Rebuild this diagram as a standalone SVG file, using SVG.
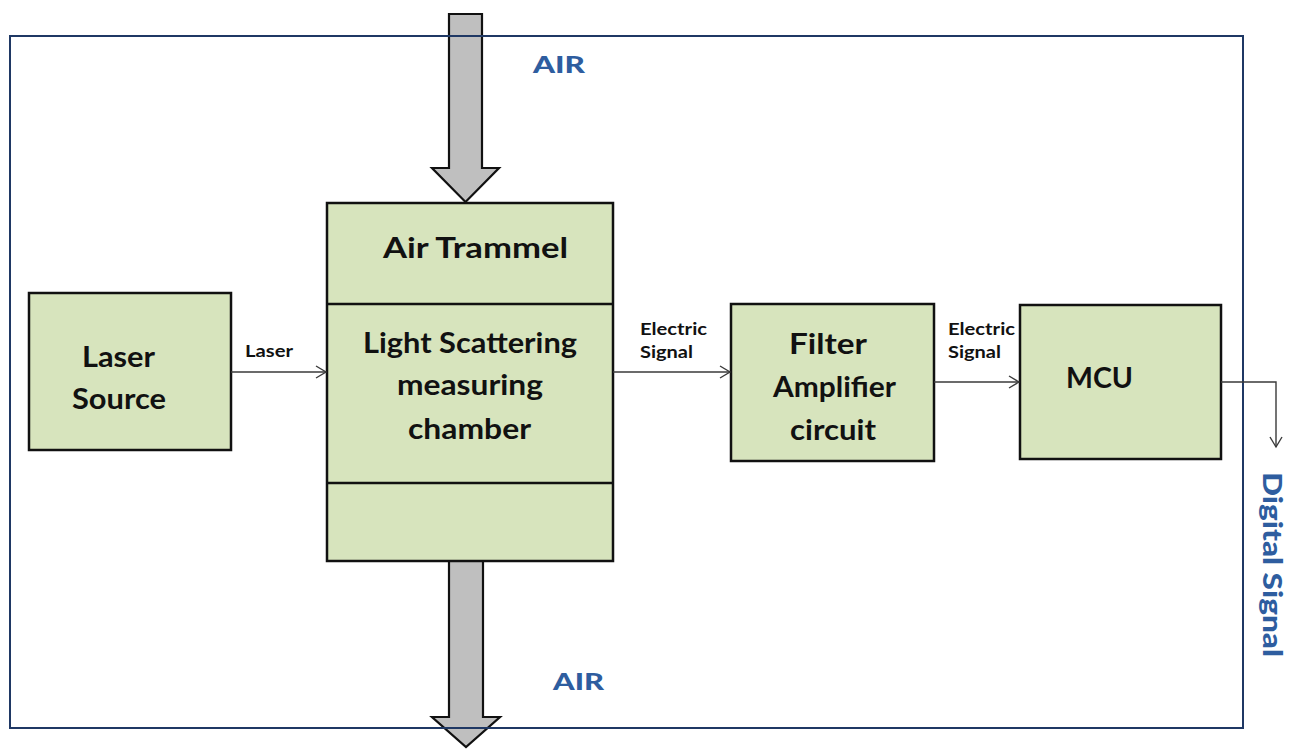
<svg xmlns="http://www.w3.org/2000/svg" width="1296" height="749" viewBox="0 0 1296 749">
<defs>
<style>
.box{fill:#D7E4BD;stroke:#111;stroke-width:2.5}
.big{fill:#111;stroke:none}
.t{font-family:Lato,"Liberation Sans",sans-serif;font-weight:bold;fill:#111}
.lbl{font-family:Lato,"Liberation Sans",sans-serif;font-weight:bold;fill:#111;font-size:17px}
.blue{font-family:Lato,"Liberation Sans",sans-serif;font-weight:900;fill:#2E5D9F}
.conn{fill:none;stroke:#3a3a3a;stroke-width:1.4}
.flow{fill:#BFBFBF;stroke:#111;stroke-width:2.2;stroke-linejoin:miter}
</style>
<marker id="arr" markerWidth="14" markerHeight="14" refX="11" refY="7" orient="auto" markerUnits="userSpaceOnUse">
<path d="M1,1 L11,7 L1,13" fill="none" stroke="#3a3a3a" stroke-width="1.4"/>
</marker>
</defs>
<rect width="1296" height="749" fill="#fff"/>

<g id="air-in">
<polygon class="flow" points="449,14 482,14 482,168 499,168 465.5,202 432,168 449,168"/>
</g>
<g id="air-out">
<polygon class="flow" points="449,561 483,561 483,717 500,717 466,747 432,717 449,717"/>
</g>

<rect id="frame" x="10" y="36" width="1233" height="692" fill="none" stroke="#1F3864" stroke-width="2"/>

<g id="air-label-top"><text class="blue" x="533" y="73" font-size="22" textLength="52" lengthAdjust="spacingAndGlyphs">AIR</text></g>
<g id="air-label-bottom"><text class="blue" x="553" y="690" font-size="22" textLength="51" lengthAdjust="spacingAndGlyphs">AIR</text></g>

<g id="laser-source">
<rect class="box" x="29" y="293" width="202" height="157"/>
<text class="t" x="82" y="367" font-size="29" textLength="73" lengthAdjust="spacingAndGlyphs">Laser</text>
<text class="t" x="72" y="409" font-size="29" textLength="94" lengthAdjust="spacingAndGlyphs">Source</text>
</g>

<g id="chamber">
<rect class="box" x="327" y="203" width="286" height="358"/>
<line x1="327" y1="304" x2="613" y2="304" stroke="#111" stroke-width="2.5"/>
<line x1="327" y1="483" x2="613" y2="483" stroke="#111" stroke-width="2.5"/>
<text class="t" x="383" y="258" font-size="29" textLength="185" lengthAdjust="spacingAndGlyphs">Air Trammel</text>
<text class="t" x="363" y="353" font-size="28" textLength="214" lengthAdjust="spacingAndGlyphs">Light Scattering</text>
<text class="t" x="397" y="395" font-size="28" textLength="146" lengthAdjust="spacingAndGlyphs">measuring</text>
<text class="t" x="408" y="439" font-size="28" textLength="123" lengthAdjust="spacingAndGlyphs">chamber</text>
</g>

<g id="filter-amplifier">
<rect class="box" x="731" y="304" width="203" height="157"/>
<text class="t" x="789" y="354" font-size="28" textLength="78" lengthAdjust="spacingAndGlyphs">Filter</text>
<text class="t" x="773" y="397" font-size="28" textLength="123" lengthAdjust="spacingAndGlyphs">Amplifier</text>
<text class="t" x="790" y="440" font-size="28" textLength="86" lengthAdjust="spacingAndGlyphs">circuit</text>
</g>

<g id="mcu">
<rect class="box" x="1020" y="305" width="201" height="154"/>
<text class="t" x="1066" y="388" font-size="28" textLength="67" lengthAdjust="spacingAndGlyphs">MCU</text>
</g>

<g id="connectors">
<line class="conn" x1="231" y1="372" x2="326" y2="372" marker-end="url(#arr)"/>
<line class="conn" x1="613" y1="372" x2="730" y2="372" marker-end="url(#arr)"/>
<line class="conn" x1="934" y1="382" x2="1019" y2="382" marker-end="url(#arr)"/>
<polyline class="conn" points="1221,382 1276,382 1276,447" marker-end="url(#arr)"/>
</g>

<g id="connector-labels">
<text class="lbl" x="245" y="357" textLength="48" lengthAdjust="spacingAndGlyphs">Laser</text>
<text class="lbl" x="640" y="335" textLength="67" lengthAdjust="spacingAndGlyphs">Electric</text>
<text class="lbl" x="640" y="358" textLength="53" lengthAdjust="spacingAndGlyphs">Signal</text>
<text class="lbl" x="948" y="335" textLength="67" lengthAdjust="spacingAndGlyphs">Electric</text>
<text class="lbl" x="948" y="358" textLength="53" lengthAdjust="spacingAndGlyphs">Signal</text>
</g>

<g id="digital-signal">
<text class="blue" transform="translate(1263,472) rotate(90)" x="0" y="0" font-size="26" textLength="185" lengthAdjust="spacingAndGlyphs">Digital Signal</text>
</g>
</svg>
